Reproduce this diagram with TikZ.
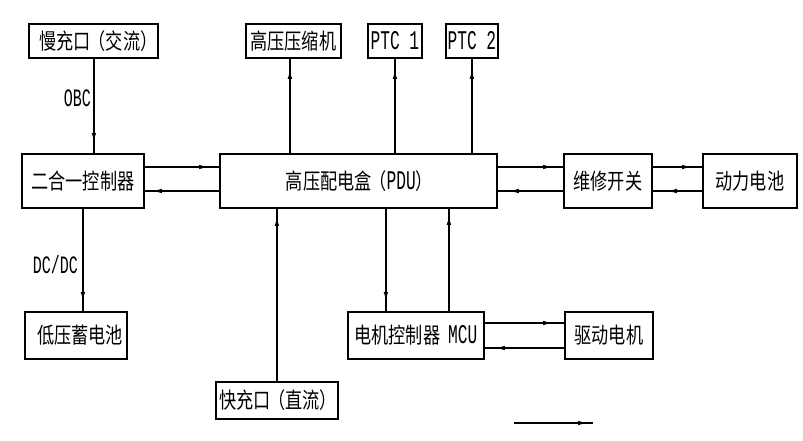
\documentclass[tikz,border=0pt]{standalone}
\usepackage{fontspec}
\setmainfont{Noto Sans CJK SC}[FakeStretch=0.78]
\newfontfamily\latfont{Liberation Mono}[FakeStretch=0.6]
\newcommand\latx[1]{{\latfont\fontsize{27}{30}\selectfont #1}}
\newcommand\latlbl[1]{{\latfont\fontsize{25}{28}\selectfont #1}}
\newcommand\lpar{\makebox[15pt][r]{（}}
\newcommand\rpar{\makebox[15pt][l]{）}}
\usetikzlibrary{arrows.meta,decorations.markings}
\tikzset{
  box/.style={draw, line width=1.8pt, inner sep=0pt, anchor=north west,
    font=\fontsize{22}{25}\selectfont},
  lbl/.style={inner sep=0pt},
  vconn/.style={line width=1.8pt},
  hconn/.style={line width=1.3pt},
  tipat/.style={postaction={decorate}, decoration={markings,
    mark=at position #1 with {\arrow{Latex[length=10pt,width=4.5pt]}}}},
  arr/.style={tipat=-10pt},
}
\begin{document}
\begin{tikzpicture}[x=1pt,y=-1pt]
\useasboundingbox (0,0) rectangle (803,440);
% boxes
\node[box, minimum width=129pt, minimum height=34pt] (slow) at (28,23) {\hspace{8pt}慢充口\lpar 交流\rpar};
\node[box, minimum width=95pt,  minimum height=34pt] (comp) at (245,23) {高压压缩机};
\node[box, minimum width=54pt,  minimum height=34pt] (ptc1) at (367,23) {\latx{PTC 1}};
\node[box, minimum width=52pt,  minimum height=34pt] (ptc2) at (445,23) {\latx{PTC 2}};
\node[box, minimum width=122pt, minimum height=54pt] (ctrl) at (21,153) {二合一控制器};
\node[box, minimum width=277pt, minimum height=54pt] (pdu)  at (219,153) {高压配电盒\lpar\latx{PDU}\rpar};
\node[box, minimum width=88pt,  minimum height=54pt] (svc)  at (563,153) {维修开关};
\node[box, minimum width=94pt,  minimum height=54pt] (batt) at (702,153) {动力电池};
\node[box, minimum width=102pt, minimum height=47pt] (lv)   at (24,311) {\hspace{8pt}低压蓄电池};
\node[box, minimum width=122pt, minimum height=37pt] (fast) at (215,381) {快充口\lpar 直流\rpar};
\node[box, minimum width=136pt, minimum height=47pt] (mcu)  at (347,311) {电机控制器\hspace{8pt}\latx{MCU}};
\node[box, minimum width=88pt,  minimum height=47pt] (mot)  at (564,311) {驱动电机};
% helper coordinates
\coordinate (sx) at ([xshift=0.5pt]slow.south);
\coordinate (cx) at ([xshift=-3.5pt]comp.south);
\coordinate (m1) at ([xshift=-30pt]mcu.north);
\coordinate (m2) at ([xshift=33pt]mcu.north);
\coordinate (yA) at (0,167);
\coordinate (yB) at (0,191);
\coordinate (yC) at (0,323);
\coordinate (yD) at (0,348);
% vertical connectors
\draw[vconn, arr] (sx) -- (sx |- ctrl.north);
\draw[vconn, arr] (cx |- pdu.north) -- (cx);
\draw[vconn, arr] (ptc1.south |- pdu.north) -- (ptc1.south);
\draw[vconn, arr] (ptc2.south |- pdu.north) -- (ptc2.south);
\draw[vconn, tipat=-9pt] (ctrl.south) -- (ctrl.south |- lv.north);
\draw[vconn, tipat=-9pt] (m1 |- pdu.south) -- (m1);
\draw[vconn, tipat=-6pt] (m2) -- (m2 |- pdu.south);
\draw[vconn, tipat=-7pt] (fast.north) -- (fast.north |- pdu.south);
% horizontal pairs
\draw[hconn, arr] (ctrl.east |- yA) -- (pdu.west |- yA);
\draw[hconn, tipat=-7pt] (pdu.west |- yB) -- (ctrl.east |- yB);
\draw[hconn, arr] (pdu.east |- yA) -- (svc.west |- yA);
\draw[hconn, tipat=-11pt] (svc.west |- yB) -- (pdu.east |- yB);
\draw[hconn, arr] (svc.east |- yA) -- (batt.west |- yA);
\draw[hconn, tipat=-14pt] (batt.west |- yB) -- (svc.east |- yB);
\draw[hconn, tipat=-11pt] (mcu.east |- yC) -- (mot.west |- yC);
\draw[hconn, arr] (mot.west |- yD) -- (mcu.east |- yD);
% labels
\node[lbl, anchor=east] (obc) at (91,98) {\latlbl{OBC}};
\node[lbl, anchor=east] (dcdc) at (78,265) {\latlbl{DC/DC}};
% legend
\coordinate (lg1) at (514,423);
\coordinate (lg2) at (593,423);
\draw[hconn, tipat=-5pt] (lg1) -- (lg2);
\end{tikzpicture}
\end{document}
